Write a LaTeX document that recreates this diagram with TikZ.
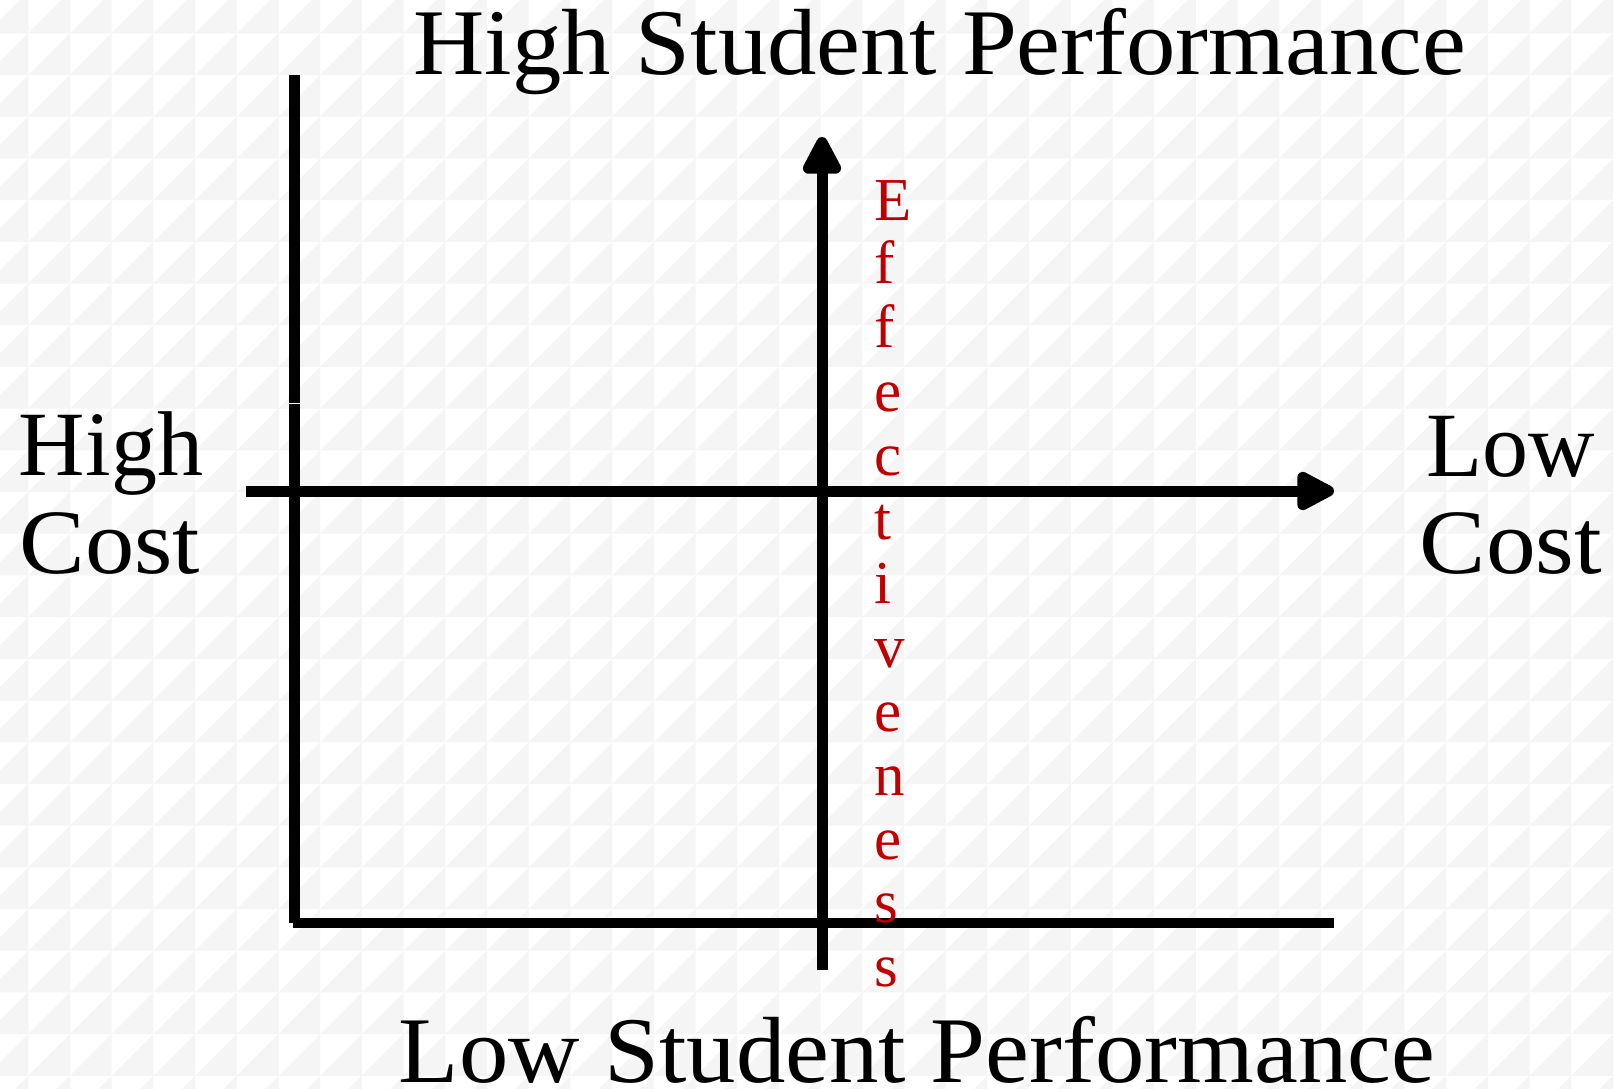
\documentclass[tikz,border=0pt]{standalone}
\usepackage{fontspec}
\usepackage{graphicx}
\setmainfont{Liberation Serif}
\usetikzlibrary{arrows.meta}
\definecolor{effred}{HTML}{C00000}
\definecolor{tilegray}{HTML}{F5F5F5}
\begin{document}
\begin{tikzpicture}[x=1pt,y=-1pt,
  axis/.style={line width=11pt, black},
  axarrow/.style={axis, -{Triangle[length=44pt,width=42pt,round]}},
  bigtext/.style={inner sep=0pt, anchor=base, font=\fontsize{92}{110}\selectfont},
  titletext/.style={inner sep=0pt, anchor=base, font=\fontsize{94}{110}\selectfont},
  efftext/.style={inner sep=0pt, anchor=base west, text=effred, font=\fontsize{61}{64}\selectfont}]
\useasboundingbox (0,0) rectangle (1614,1089);
\fill[white] (0,0) rectangle (1614,1089);
\begin{scope}
\clip (0,0) rectangle (1614,1089);
\foreach \i in {0,...,39} {
  \foreach \j in {0,...,26} {
    \pgfmathsetmacro\xa{-13.4+\i*41.7}
    \pgfmathsetmacro\ya{-8.4+\j*41.7}
    \fill[tilegray] (\xa+41.7,\ya) -- (\xa+41.7,\ya+41.7) -- (\xa,\ya+41.7) -- cycle;
  }
}
\end{scope}
% axes
\coordinate (lvTop) at (294.5,75);
\coordinate (lvGapA) at (294.5,402.8);
\coordinate (lvGapB) at (294.5,403.8);
\coordinate (lvBot) at (294.5,923);
\coordinate (bhStart) at (293,923);
\coordinate (bhEnd) at (1334,923);
\coordinate (hStart) at (246,491);
\coordinate (hTip) at (1334,491);
\coordinate (vStart) at (822,970);
\coordinate (vTip) at (822,137);
\draw[axis] (lvTop) -- (lvGapA);
\draw[axis] (lvGapB) -- (lvBot);
\draw[axis, line width=10.5pt] (bhStart) -- (bhEnd);
\draw[axarrow] (hStart) -- (hTip);
\draw[axarrow] (vStart) -- (vTip);
% texts
\node[titletext] (topt) at (940,75) {\scalebox{1.05}[1]{High Student Performance}};
\node[titletext] (bott) at (917,1082) {\scalebox{1.05}[1]{Low Student Performance}};
\node[bigtext] (lhigh) at (111,475) {High};
\node[bigtext] (lcost) at (110,573) {\scalebox{1.07}[1]{Cost}};
\node[bigtext] (rlow) at (1511,476) {Low};
\node[bigtext] (rcost) at (1511,573) {\scalebox{1.08}[1]{Cost}};
\foreach \c [count=\k from 0] in {E,f,f,e,c,t,i,v,e,n,e,s,s}
  \node[efftext] (eff\k) at (874,220+\k*63.9) {\c};
\end{tikzpicture}
\end{document}
